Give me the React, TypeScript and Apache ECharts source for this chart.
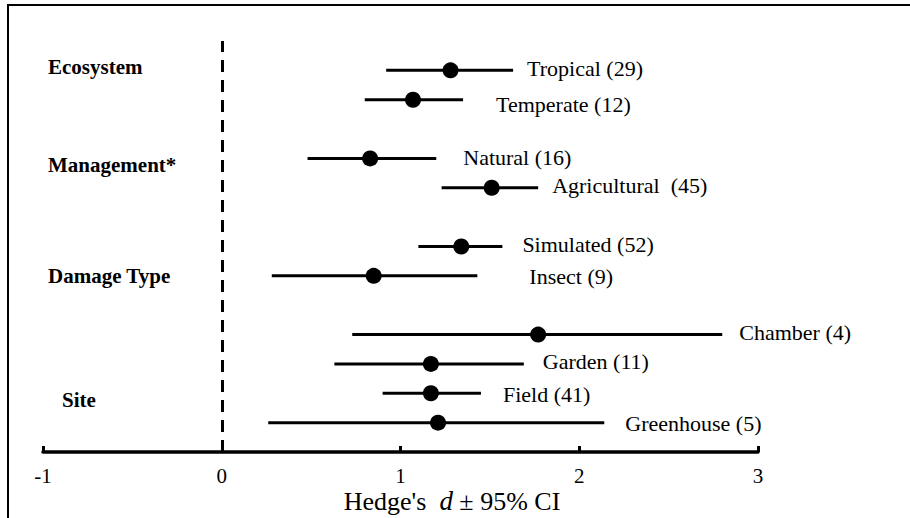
import React, { useEffect, useRef } from "react";
import * as echarts from "echarts";

const categories = [
  "Tropical (29)",
  "Temperate (12)",
  "Natural (16)",
  "Agricultural  (45)",
  "Simulated (52)",
  "Insect (9)",
  "Chamber (4)",
  "Garden (11)",
  "Field (41)",
  "Greenhouse (5)",
];
const rowIndex = [12, 11, 9, 8, 6, 5, 3, 2, 1, 0];
const means = [1.28, 1.07, 0.83, 1.51, 1.34, 0.85, 1.77, 1.17, 1.17, 1.21];
const lower = [0.92, 0.8, 0.48, 1.23, 1.1, 0.28, 0.73, 0.63, 0.9, 0.26];
const upper = [1.63, 1.35, 1.2, 1.77, 1.57, 1.43, 2.8, 1.69, 1.45, 2.14];
const groupNames = ["Ecosystem", "Management*", "Damage Type", "Site"];
const xTicks = [-1, 0, 1, 2, 3];

// layout (pixels) for label placement
const labelGap = [14, 33, 27, 14, 20, 52, 17, 19, 22, 21];
const labelDy = [-2, 5, -1, -2, -2, 1, -2, -2, 1, 1];
const groupPos = [
  [48, 67],
  [48, 165],
  [48, 276],
  [62, 400],
];

const FONT = "Liberation Serif";

export default function App() {
  const ref = useRef<HTMLDivElement>(null);
  useEffect(() => {
    if (!ref.current) return;
    const chart = echarts.init(ref.current, undefined, { renderer: "svg" });
    const data = categories.map((c, i) => [lower[i], means[i], upper[i], rowIndex[i]]);
    chart.setOption({
      animation: false,
      backgroundColor: "#fff",
      textStyle: { fontFamily: FONT },
      grid: { left: 43, right: 152, top: 41, bottom: 66 },
      xAxis: {
        type: "value",
        min: xTicks[0],
        max: xTicks[xTicks.length - 1],
        interval: 1,
        axisLine: { show: true, onZero: false, lineStyle: { color: "#000", width: 3.5 } },
        axisTick: { show: true, inside: true, length: 6, lineStyle: { color: "#000", width: 3 } },
        axisLabel: { color: "#000", fontSize: 21, fontFamily: FONT, margin: 13 },
        splitLine: { show: false },
      },
      yAxis: {
        type: "value",
        min: -1,
        max: 13,
        show: false,
        splitLine: { show: false },
      },
      series: [
        {
          type: "line",
          data: [],
          silent: true,
          markLine: {
            silent: true,
            symbol: "none",
            label: { show: false },
            lineStyle: { color: "#000", width: 3, type: [12, 8] },
            data: [{ xAxis: 0 }],
          },
        },
        {
          type: "custom",
          clip: false,
          data,
          renderItem: (params: any, api: any) => {
            const i = params.dataIndex;
            const lo = api.coord([api.value(0), api.value(3)]);
            const mid = api.coord([api.value(1), api.value(3)]);
            const hi = api.coord([api.value(2), api.value(3)]);
            return {
              type: "group",
              children: [
                {
                  type: "line",
                  shape: { x1: lo[0], y1: lo[1], x2: hi[0], y2: hi[1] },
                  style: { stroke: "#000", lineWidth: 3 },
                },
                {
                  type: "circle",
                  shape: { cx: mid[0], cy: mid[1], r: 8 },
                  style: { fill: "#000" },
                },
                {
                  type: "text",
                  x: hi[0] + labelGap[i],
                  y: hi[1] + labelDy[i],
                  style: {
                    text: categories[i],
                    fill: "#000",
                    fontSize: 22,
                    fontFamily: FONT,
                    align: "left",
                    verticalAlign: "middle",
                  },
                },
              ],
            };
          },
        },
      ],
      graphic: [
        {
          type: "rect",
          shape: { x: 8, y: 5, width: 1000, height: 1000 },
          style: { fill: "none", stroke: "#000", lineWidth: 2 },
          silent: true,
        },
        ...groupNames.map((g, i) => ({
          type: "text",
          x: groupPos[i][0],
          y: groupPos[i][1],
          style: {
            text: g,
            fill: "#000",
            fontSize: 21,
            fontWeight: "bold",
            fontFamily: FONT,
            align: "left",
            verticalAlign: "middle",
          },
        })),
        {
          type: "text",
          x: 452,
          y: 501,
          style: {
            text: "{r|Hedge's  }{i|d}{r| ± 95% CI}",
            fill: "#000",
            fontSize: 26,
            fontFamily: FONT,
            align: "center",
            verticalAlign: "middle",
            rich: {
              r: { fontSize: 26, fontFamily: FONT, fill: "#000" },
              i: { fontStyle: "italic", fontSize: 27, fontFamily: FONT, fill: "#000" },
            },
          },
        },
      ],
    });
    return () => chart.dispose();
  }, []);
  return (
    <div
      ref={ref}
      style={{ position: "absolute", left: 0, top: 0, width: 910, height: 518 }}
    />
  );
}
